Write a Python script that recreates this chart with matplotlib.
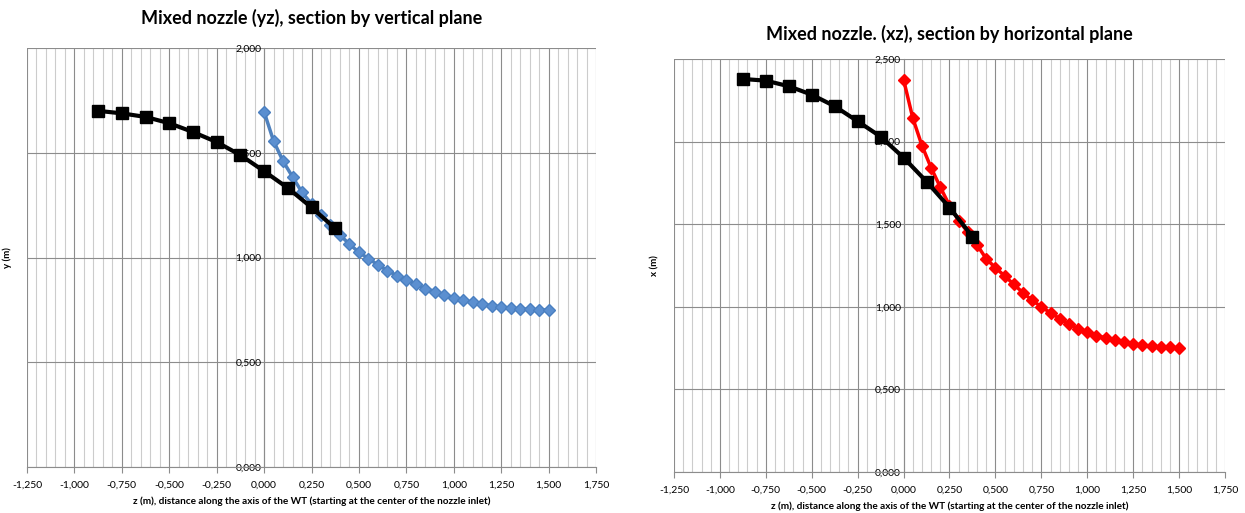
import matplotlib.pyplot as plt
from matplotlib.ticker import MultipleLocator, FuncFormatter

plt.rcParams['font.family'] = ['Lato', 'DejaVu Sans']

# black profile (same z stations on both charts)
z_black = [-0.875, -0.75, -0.625, -0.5, -0.375, -0.25, -0.125, 0.0, 0.125, 0.25, 0.375]
y_black = [1.700, 1.688, 1.671, 1.641, 1.599, 1.551, 1.489, 1.412, 1.332, 1.239, 1.139]
x_black = [2.379, 2.369, 2.335, 2.284, 2.214, 2.123, 2.030, 1.903, 1.758, 1.601, 1.425]

# nozzle profiles, z from 0 to 1.5 every 0.05
z_nozzle = [0.0, 0.05, 0.1, 0.15, 0.2, 0.25, 0.3, 0.35, 0.4, 0.45, 0.5,
            0.55, 0.6, 0.65, 0.7, 0.75, 0.8, 0.85, 0.9, 0.95, 1.0,
            1.05, 1.1, 1.15, 1.2, 1.25, 1.3, 1.35, 1.4, 1.45, 1.5]
y_blue = [1.696, 1.556, 1.460, 1.385, 1.311, 1.256, 1.204, 1.155, 1.107, 1.064, 1.025,
          0.995, 0.965, 0.937, 0.914, 0.892, 0.873, 0.852, 0.837, 0.822, 0.808,
          0.796, 0.786, 0.777, 0.770, 0.764, 0.758, 0.755, 0.752, 0.750, 0.749]
x_red = [2.375, 2.143, 1.976, 1.841, 1.724, 1.613, 1.522, 1.452, 1.375, 1.290, 1.237,
         1.187, 1.136, 1.085, 1.039, 1.000, 0.963, 0.929, 0.897, 0.868, 0.846,
         0.826, 0.811, 0.797, 0.785, 0.775, 0.767, 0.761, 0.757, 0.755, 0.751]

xlabel = 'z (m), distance along the axis of the WT (starting at the center of the nozzle inlet)'


def comma(v, pos):
	return ('%.3f' % v).replace('.', ',')


def style(ax, ymax, ylab, title, tpad):
	ax.set_xlim(-1.25, 1.75)
	ax.set_ylim(0, ymax)
	ax.xaxis.set_major_locator(MultipleLocator(0.25))
	ax.xaxis.set_minor_locator(MultipleLocator(0.05))
	ax.yaxis.set_major_locator(MultipleLocator(0.5))
	ax.xaxis.set_major_formatter(FuncFormatter(comma))
	ax.yaxis.set_major_formatter(FuncFormatter(comma))
	ax.grid(which='major', color='#8c8c8c', lw=0.8)
	ax.grid(which='minor', axis='x', color='#cccccc', lw=0.8)
	ax.set_axisbelow(True)
	for s in ['top', 'right']:
		ax.spines[s].set_visible(False)
	ax.spines['left'].set_position(('data', 0))
	ax.spines['left'].set_color('#8c8c8c')
	ax.spines['bottom'].set_color('#8c8c8c')
	ax.tick_params(axis='x', which='major', length=4, color='#8c8c8c', labelsize=7.5, pad=6)
	ax.tick_params(axis='x', which='minor', length=0)
	ax.tick_params(axis='y', length=0, labelsize=7.5, pad=2)
	ax.set_xlabel(xlabel, fontsize=7.2, fontweight='bold', labelpad=5)
	ax.text(-0.035, 0.5, ylab, transform=ax.transAxes, rotation=90, fontsize=7,
			fontweight='bold', ha='center', va='center')
	ax.set_title(title, fontsize=13, fontweight='bold', pad=tpad)


fig = plt.figure(figsize=(12.45, 5.13), dpi=100)
ax1 = fig.add_axes([27 / 1245, 1 - 467 / 513, 569 / 1245, 419 / 513])
ax2 = fig.add_axes([674 / 1245, 1 - 472 / 513, 551 / 1245, 413 / 513])

ax1.plot(z_nozzle, y_blue, color='#4f81bd', lw=2.5, marker='D', ms=6.5,
		 markerfacecolor='#5b8fd0', markeredgecolor='#4a7fc0', zorder=3)
ax1.plot(z_black, y_black, color='black', lw=3, marker='s', ms=8, zorder=4)
style(ax1, 2.0, 'y (m)', 'Mixed nozzle (yz), section by vertical plane', 17)

ax2.plot(z_nozzle, x_red, color='#ff0000', lw=2.5, marker='D', ms=6, zorder=3)
ax2.plot(z_black, x_black, color='black', lw=3, marker='s', ms=8, zorder=4)
style(ax2, 2.5, 'x (m)', 'Mixed nozzle. (xz), section by horizontal plane', 14)

fig.savefig('out.png', dpi=100)
